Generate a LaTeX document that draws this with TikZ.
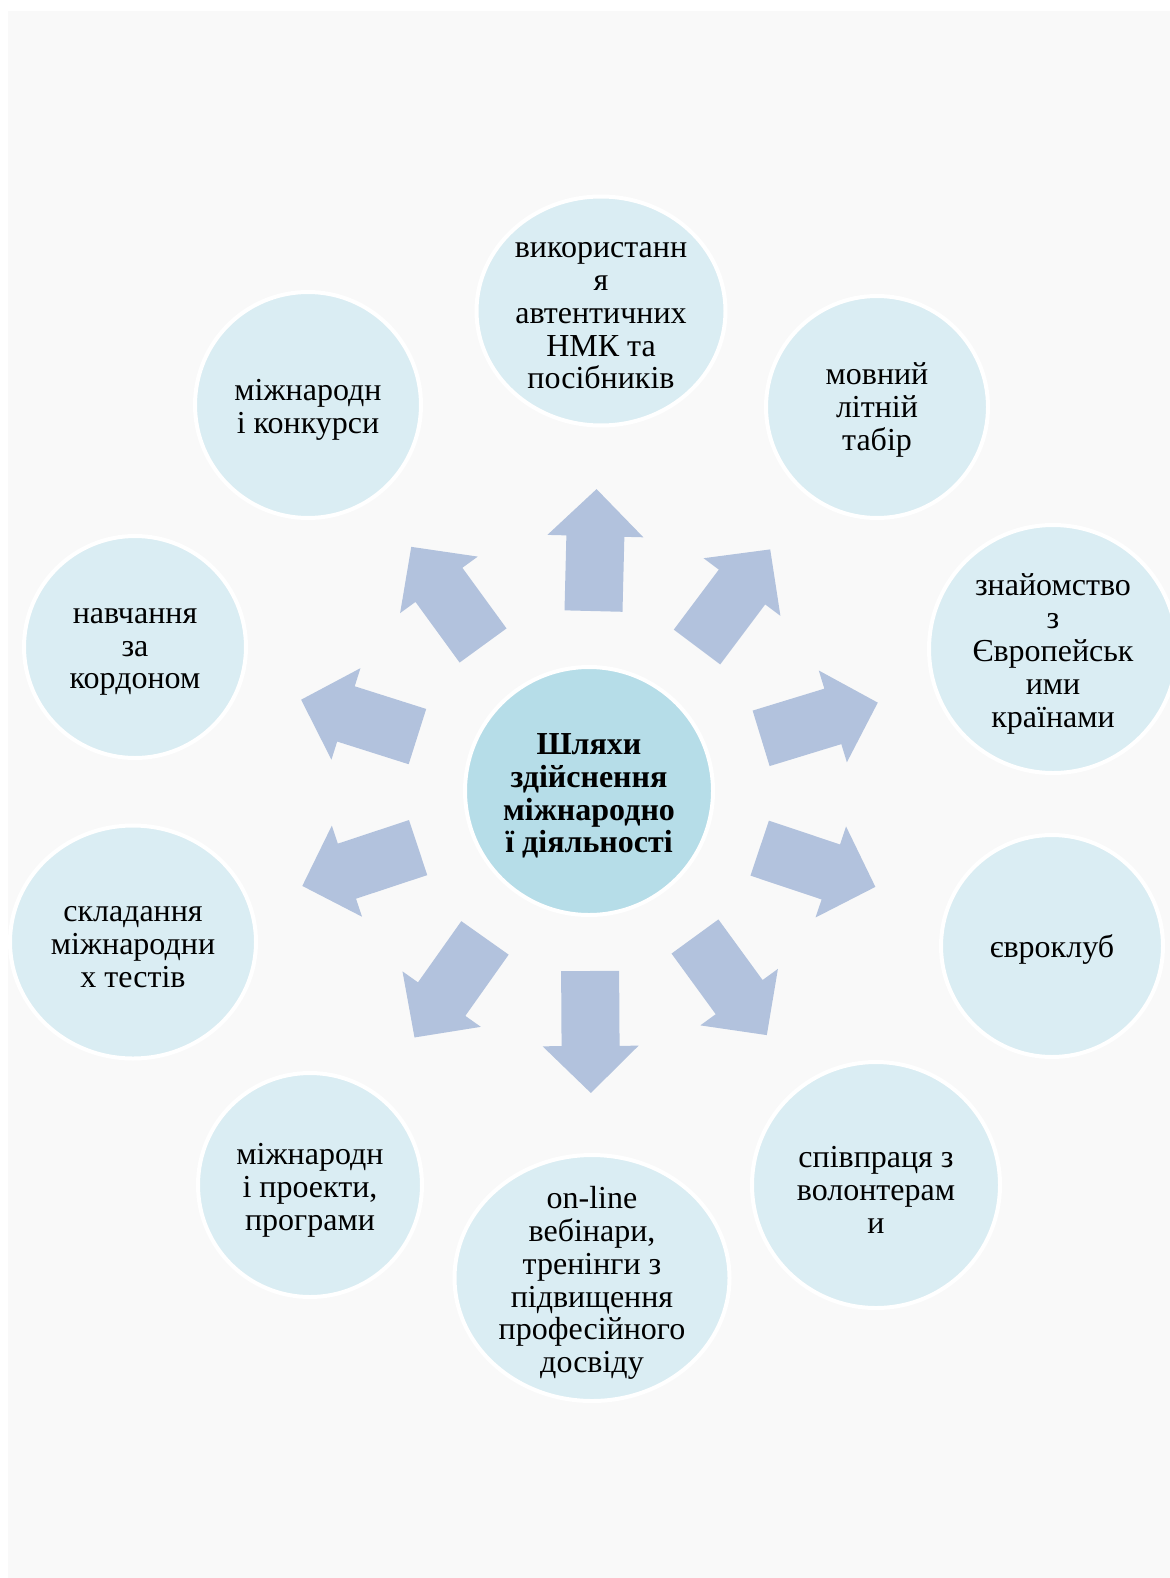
\documentclass[tikz,border=0pt]{standalone}
\usepackage{fontspec}
\setmainfont{Liberation Serif}
\usetikzlibrary{calc,shapes.geometric}
\definecolor{pagebg}{HTML}{F9F9F9}
\definecolor{outerfill}{HTML}{DAEDF3}
\definecolor{centerfill}{HTML}{B6DDE8}
\definecolor{arrowfill}{HTML}{B2C2DD}
\tikzset{
  bubble/.style={ellipse, fill=outerfill, draw=white, line width=2pt, inner sep=0pt},
  hub/.style={bubble, fill=centerfill},
  btext/.style={align=center, inner sep=0pt, font=\fontsize{16}{16.4}\selectfont, text=black},
  htext/.style={btext, font=\fontsize{16}{16.4}\selectfont\bfseries},
  blockarrow/.style={fill=arrowfill, draw=none}
}
\newcommand\radarrow[2]{%
  \fill[blockarrow]
   ($(#1)!90pt!(#2)!14.5pt!90:(#2)$) --
   ($(#1)!127.5pt!(#2)!14.5pt!90:(#2)$) --
   ($(#1)!127.5pt!(#2)!24pt!90:(#2)$) --
   ($(#1)!151pt!(#2)$) --
   ($(#1)!127.5pt!(#2)!24pt!-90:(#2)$) --
   ($(#1)!127.5pt!(#2)!14.5pt!-90:(#2)$) --
   ($(#1)!90pt!(#2)!14.5pt!-90:(#2)$) -- cycle;}
\begin{document}
\begin{tikzpicture}[x=0.5pt,y=-0.5pt]
\useasboundingbox (0,0) rectangle (1170,1578);
\clip (0,0) rectangle (1170,1578);
\fill[white] (0,0) rectangle (1170,1578);
\fill[pagebg] (8,11) rectangle (1170,1578);

\node[hub, minimum width=124pt, minimum height=124pt] (c) at (589,791) {};
\node[bubble, minimum width=124.5pt, minimum height=114.5pt] (t1) at (601,311) {};
\node[bubble, minimum width=111pt, minimum height=111pt] (t2) at (877,407) {};
\node[bubble, minimum width=124pt, minimum height=124pt] (t3) at (1053,649) {};
\node[bubble, minimum width=111pt, minimum height=111pt] (t4) at (1052,946) {};
\node[bubble, minimum width=124pt, minimum height=123pt] (t5) at (876,1185) {};
\node[bubble, minimum width=137.5pt, minimum height=123pt] (t6) at (592,1278) {};
\node[bubble, minimum width=112pt, minimum height=112pt] (t7) at (310,1185) {};
\node[bubble, minimum width=123pt, minimum height=116.5pt] (t8) at (133,942) {};
\node[bubble, minimum width=111pt, minimum height=111pt] (t9) at (135,647) {};
\node[bubble, minimum width=113pt, minimum height=113pt] (t10) at (308,405) {};

\node[htext] (c-text) at ([yshift=-2.5pt]c.center) {Шляхи\\здійснення\\міжнародно\\ї діяльності};
\node[btext] (t1-text) at ([yshift=-2.5pt]t1.center) {використанн\\я\\автентичних\\НМК та\\посібників};
\node[btext] (t2-text) at ([yshift=-1.5pt]t2.center) {мовний\\літній\\табір};
\node[btext] (t3-text) at ([yshift=-2.5pt]t3.center) {знайомство\\з\\Європейськ\\ими\\країнами};
\node[btext] (t4-text) at ([yshift=-1.5pt]t4.center) {євроклуб};
\node[btext] (t5-text) at ([yshift=-2.5pt]t5.center) {співпраця з\\волонтерам\\и};
\node[btext] (t6-text) at ([yshift=-2.5pt]t6.center) {on-line\\вебінари,\\тренінги з\\підвищення\\професійного\\досвіду};
\node[btext] (t7-text) at ([yshift=-2.5pt]t7.center) {міжнародн\\і проекти,\\програми};
\node[btext] (t8-text) at ([yshift=-2.5pt]t8.center) {складання\\міжнародни\\х тестів};
\node[btext] (t9-text) at ([yshift=-2.5pt]t9.center) {навчання\\за\\кордоном};
\node[btext] (t10-text) at ([yshift=-2.5pt]t10.center) {міжнародн\\і конкурси};

\foreach \t in {t1,t2,t3,t4,t5,t6,t7,t8,t9,t10} {\radarrow{c}{\t}}
\end{tikzpicture}
\end{document}
